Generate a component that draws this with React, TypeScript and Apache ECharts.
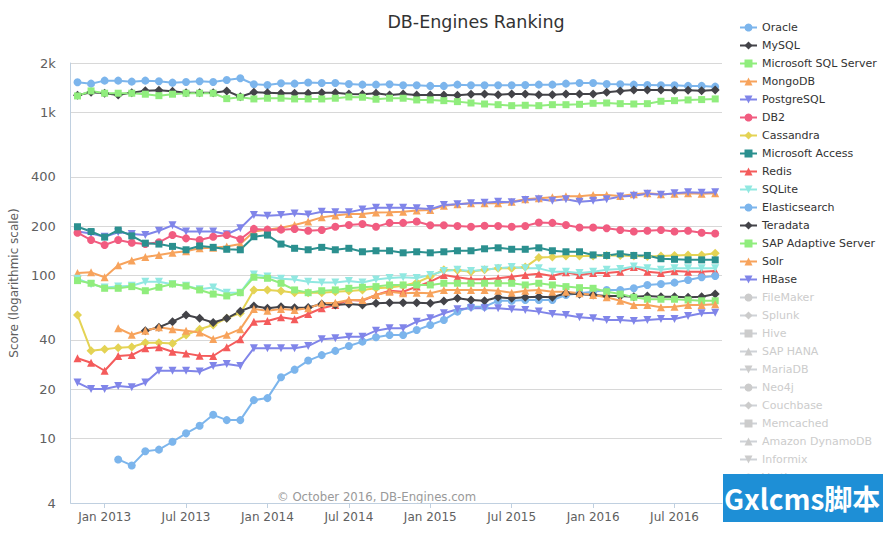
import React, { useEffect, useRef } from 'react';
import * as echarts from 'echarts';

const FONT = '"DejaVu Sans", "Noto Sans", sans-serif';

const MONTHS = [
  'Nov 2012', 'Dec 2012',
  'Jan 2013', 'Feb 2013', 'Mar 2013', 'Apr 2013', 'May 2013', 'Jun 2013', 'Jul 2013', 'Aug 2013', 'Sep 2013', 'Oct 2013', 'Nov 2013', 'Dec 2013',
  'Jan 2014', 'Feb 2014', 'Mar 2014', 'Apr 2014', 'May 2014', 'Jun 2014', 'Jul 2014', 'Aug 2014', 'Sep 2014', 'Oct 2014', 'Nov 2014', 'Dec 2014',
  'Jan 2015', 'Feb 2015', 'Mar 2015', 'Apr 2015', 'May 2015', 'Jun 2015', 'Jul 2015', 'Aug 2015', 'Sep 2015', 'Oct 2015', 'Nov 2015', 'Dec 2015',
  'Jan 2016', 'Feb 2016', 'Mar 2016', 'Apr 2016', 'May 2016', 'Jun 2016', 'Jul 2016', 'Aug 2016', 'Sep 2016', 'Oct 2016',
];

const Y_TICKS = [4, 10, 20, 40, 100, 200, 400, 1000, 2000];

const oracle = [1524, 1494, 1559, 1559, 1537, 1559, 1546, 1515, 1530, 1546, 1530, 1574, 1613, 1482, 1467, 1503, 1495, 1518, 1509, 1509, 1488, 1473, 1473, 1482, 1461, 1461, 1447, 1447, 1473, 1461, 1461, 1461, 1461, 1467, 1473, 1473, 1494, 1509, 1509, 1488, 1482, 1473, 1467, 1461, 1461, 1447, 1447, 1432];
const mysql = [1270, 1323, 1305, 1274, 1316, 1353, 1361, 1342, 1316, 1316, 1316, 1348, 1242, 1323, 1316, 1305, 1305, 1305, 1316, 1316, 1292, 1287, 1305, 1274, 1292, 1274, 1274, 1274, 1268, 1287, 1292, 1279, 1292, 1292, 1279, 1279, 1292, 1292, 1292, 1323, 1348, 1367, 1367, 1367, 1361, 1361, 1353, 1367];
const mssql = [1256, 1348, 1305, 1305, 1305, 1287, 1261, 1287, 1305, 1305, 1305, 1209, 1233, 1204, 1216, 1216, 1204, 1204, 1204, 1216, 1238, 1233, 1199, 1216, 1216, 1187, 1187, 1175, 1159, 1137, 1121, 1110, 1095, 1101, 1095, 1110, 1110, 1116, 1132, 1137, 1126, 1121, 1126, 1165, 1175, 1187, 1193, 1204];
const mongodb = [103, 104, 97, 115, 123, 129, 133, 137, 140, 146, 147, 150, 155, 185, 190, 195, 203, 213, 226, 232, 237, 237, 242, 243, 245, 249, 251, 266, 272, 276, 276, 276, 282, 292, 296, 300, 305, 305, 310, 310, 306, 313, 318, 313, 315, 318, 315, 318];
const postgresql = [185, 180, 172, 183, 179, 176, 187, 202, 185, 185, 185, 178, 194, 234, 231, 234, 239, 235, 245, 243, 243, 253, 259, 259, 259, 257, 254, 269, 272, 276, 278, 282, 280, 289, 292, 286, 292, 282, 286, 292, 303, 307, 315, 311, 318, 322, 320, 322];
const db2 = [182, 164, 153, 164, 158, 155, 159, 176, 168, 164, 172, 176, 166, 192, 190, 190, 192, 187, 189, 198, 203, 206, 198, 209, 209, 213, 202, 202, 200, 198, 201, 200, 198, 200, 210, 209, 203, 196, 196, 194, 189, 185, 187, 189, 185, 187, 182, 180];
const cassandra = [56.9, 34.4, 35.1, 35.9, 36.2, 38.5, 38.5, 38.1, 42.9, 46.5, 49.4, 54.4, 58.4, 81, 81, 80, 78, 78, 78, 79, 80, 81, 83, 84, 86, 90, 98, 108, 107, 105, 108, 110, 110, 112, 128, 129, 131, 131, 131, 132, 132, 131, 130, 131, 132, 133, 133, 136];
const access = [198, 185, 171, 189, 174, 157, 155, 150, 143, 151, 148, 144, 143, 172, 176, 155, 146, 143, 148, 143, 146, 139, 141, 141, 137, 139, 137, 139, 141, 141, 145, 147, 144, 144, 147, 141, 139, 139, 133, 132, 135, 132, 132, 126, 125, 124, 124, 124];
const redis = [30.9, 29.0, 25.9, 31.9, 32.3, 35.6, 36.1, 33.9, 33.1, 32.0, 31.9, 36.1, 40.4, 51.8, 52.3, 55.1, 53.6, 57.7, 62.6, 65.6, 70.4, 69.6, 75.5, 80.2, 79.1, 85, 91.2, 100, 97, 94.3, 94.3, 95.6, 97.8, 100, 102, 98.8, 104, 100, 103, 103, 105, 112, 105, 103, 106, 105, 105, 106];
const sqlite = [95, 88, 84, 85, 86, 91, 91, 88, 86, 82, 84, 78, 78, 101, 98, 95, 94, 91, 90, 90, 92, 90, 94, 96, 97, 96, 100, 106, 108, 106, 108, 110, 112, 110, 110, 105, 105, 103, 105, 108, 109, 113, 110, 108, 110, 110, 110, 110];
const elasticsearch = [null, null, null, 7.4, 6.8, 8.3, 8.5, 9.5, 10.7, 11.9, 13.9, 12.9, 12.9, 17.1, 17.6, 23.6, 26.3, 29.9, 32.3, 34.3, 36.7, 39.1, 41.6, 42.9, 42.9, 46, 49.4, 53.1, 59.7, 64, 64, 69.6, 69.6, 70.4, 70.4, 70.4, 75.5, 77.3, 79.1, 81.1, 81.1, 83, 87, 88.2, 89.9, 93.4, 97, 98.8];
const teradata = [null, null, null, null, null, 45.6, 47.9, 51.8, 56.9, 54.3, 51.2, 54.3, 60.1, 64.6, 62.6, 64, 63, 63.3, 66.5, 65.6, 66.5, 65.6, 67.1, 67.7, 67.7, 67.7, 67.1, 69.4, 72.1, 70.4, 69.6, 73.1, 72.1, 73.1, 73.7, 73.1, 77.3, 76.2, 75.5, 74.5, 74.5, 73.7, 74.5, 73.7, 73.7, 73.1, 73.7, 76.5];
const sapAse = [92.5, 89.1, 83, 83, 85, 80.2, 84.2, 88.2, 85.7, 81.1, 76.5, 74.5, 78, 97, 95.6, 89.1, 81.1, 78, 80.2, 81.1, 83, 84.2, 85, 87, 87, 87, 87, 89.1, 89.1, 89.1, 89.1, 89.1, 89.1, 87, 89.1, 87, 85, 83.7, 83, 79.1, 76.5, 73.1, 71.1, 71.1, 71.1, 70.4, 69.6, 69.6];
const solr = [null, null, null, 47.2, 43.1, 45.6, 47.9, 46.6, 45.6, 44.4, 40.5, 43, 46.6, 62, 60.4, 62, 61.1, 62.6, 67.1, 67.7, 70.4, 70.4, 75.5, 79.1, 77.3, 78, 77.3, 81.1, 81.1, 81.1, 81.1, 80.2, 78, 80.2, 81.1, 79.1, 79.1, 77.3, 75.5, 73.1, 69.6, 65.6, 65.6, 63.5, 64, 65.6, 65.6, 66.2];
const hbase = [21.9, 20.0, 20.0, 20.9, 20.5, 21.9, 25.9, 25.9, 25.9, 25.6, 27.7, 28.5, 27.7, 35.6, 35.6, 35.6, 35.6, 36.7, 40.4, 41, 41.9, 41.9, 45.6, 47.2, 47.2, 51.8, 54.3, 58.3, 61.7, 62.6, 62.6, 62.6, 61.7, 61.1, 59.7, 57.7, 56.9, 55.1, 54.3, 53.1, 53.1, 52.3, 53.1, 53.8, 53.8, 56.1, 58.3, 58.8];

const SHOWN_NAMES = [
  'Oracle', 'MySQL', 'Microsoft SQL Server', 'MongoDB', 'PostgreSQL', 'DB2', 'Cassandra',
  'Microsoft Access', 'Redis', 'SQLite', 'Elasticsearch', 'Teradata', 'SAP Adaptive Server', 'Solr', 'HBase',
];
const SHOWN_VALUES = [
  oracle, mysql, mssql, mongodb, postgresql, db2, cassandra, access, redis, sqlite,
  elasticsearch, teradata, sapAse, solr, hbase,
];
const HIDDEN_NAMES = [
  'FileMaker', 'Splunk', 'Hive', 'SAP HANA', 'MariaDB', 'Neo4j', 'Couchbase', 'Memcached',
  'Amazon DynamoDB', 'Informix', 'Vertica',
];

const PALETTE = ['#7cb5ec', '#434348', '#90ed7d', '#f7a35c', '#8085e9', '#f15c80', '#e4d354', '#2b908f', '#f45b5b', '#91e8e1'];
const SYMBOLS = ['circle', 'diamond', 'rect', 'triangle', 'triangle'];
const SYMBOL_SIZES = [8, 9, 7, 8, 8];

function fmtY(v: number) {
  return v >= 1000 ? v / 1000 + 'k' : String(v);
}
function isTick(v: string) {
  return v.startsWith('Jan') || v.startsWith('Jul');
}

function buildOption() {
  const allNames = [...SHOWN_NAMES, ...HIDDEN_NAMES];
  const selected: Record<string, boolean> = {};
  HIDDEN_NAMES.forEach((n) => (selected[n] = false));
  const series = allNames.map((name, k) => {
    const color = PALETTE[k % PALETTE.length];
    const s = k % 5;
    return {
      name,
      type: 'line',
      data: k < SHOWN_VALUES.length ? SHOWN_VALUES[k] : [],
      symbol: SYMBOLS[s],
      symbolSize: SYMBOL_SIZES[s],
      symbolRotate: s === 4 ? 180 : 0,
      showAllSymbol: true,
      lineStyle: { width: 2, color },
      itemStyle: { color },
      connectNulls: false,
      emphasis: { disabled: true },
    };
  });
  return {
    animation: false,
    backgroundColor: '#ffffff',
    textStyle: { fontFamily: FONT },
    grid: { left: 58, right: 161, top: 63, bottom: 32, containLabel: false },
    legend: {
      orient: 'vertical',
      left: 734,
      top: 17,
      itemWidth: 17,
      itemHeight: 10,
      itemGap: 7,
      data: allNames,
      selected,
      inactiveColor: '#cccccc',
      textStyle: { color: '#333333', fontSize: 11, fontFamily: FONT },
    },
    xAxis: {
      type: 'category',
      data: MONTHS,
      boundaryGap: true,
      axisLine: { show: true, lineStyle: { color: '#c0d0e0', width: 1 } },
      axisTick: {
        show: true,
        alignWithLabel: true,
        interval: (_i: number, v: string) => isTick(v),
        length: 5,
        lineStyle: { color: '#c0d0e0' },
      },
      axisLabel: {
        interval: (_i: number, v: string) => isTick(v),
        color: '#606060',
        fontSize: 12,
        fontFamily: FONT,
        margin: 8,
      },
      splitLine: { show: false },
    },
    yAxis: {
      type: 'log',
      logBase: 10,
      min: 4,
      max: 2000,
      name: 'Score (logarithmic scale)',
      nameLocation: 'middle',
      nameGap: 50,
      nameTextStyle: { color: '#606060', fontSize: 12, fontFamily: FONT },
      axisLine: { show: true, lineStyle: { color: '#c0d0e0' } },
      axisTick: { show: false, customValues: Y_TICKS },
      axisLabel: {
        customValues: Y_TICKS,
        formatter: fmtY,
        color: '#606060',
        fontSize: 13,
        fontFamily: FONT,
        margin: 15,
      },
      splitLine: { show: true, lineStyle: { color: '#d8d8d8', width: 1 } },
      minorSplitLine: { show: false },
    },
    graphic: [
      {
        type: 'text',
        x: 476,
        y: 22,
        style: {
          text: 'DB-Engines Ranking',
          fill: '#333333',
          font: '17.5px ' + FONT,
          textAlign: 'center',
          textVerticalAlign: 'middle',
        },
      },
      {
        type: 'text',
        x: 277,
        y: 497,
        style: {
          text: '\u00a9 October 2016, DB-Engines.com',
          fill: '#999999',
          font: '11.7px ' + FONT,
          textAlign: 'left',
          textVerticalAlign: 'middle',
        },
      },
      {
        type: 'rect',
        z: 100,
        shape: { x: 723, y: 474, width: 160, height: 48 },
        style: { fill: '#1e8fd6' },
      },
      {
        type: 'text',
        z: 101,
        x: 724,
        y: 498,
        style: {
          text: 'Gxlcms脚本',
          fill: '#ffffff',
          font: 'bold 28px "Noto Sans CJK SC", "DejaVu Sans", sans-serif',
          textAlign: 'left',
          textVerticalAlign: 'middle',
        },
      },
    ],
    series,
  };
}

export default function App() {
  const ref = useRef<HTMLDivElement>(null);
  useEffect(() => {
    if (!ref.current) return;
    const chart = echarts.init(ref.current, undefined, { renderer: 'svg' });
    chart.setOption(buildOption() as any);
    return () => chart.dispose();
  }, []);
  return (
    <div
      ref={ref}
      style={{ position: 'absolute', left: 0, top: 0, width: 883, height: 535, background: '#fff' }}
    />
  );
}
